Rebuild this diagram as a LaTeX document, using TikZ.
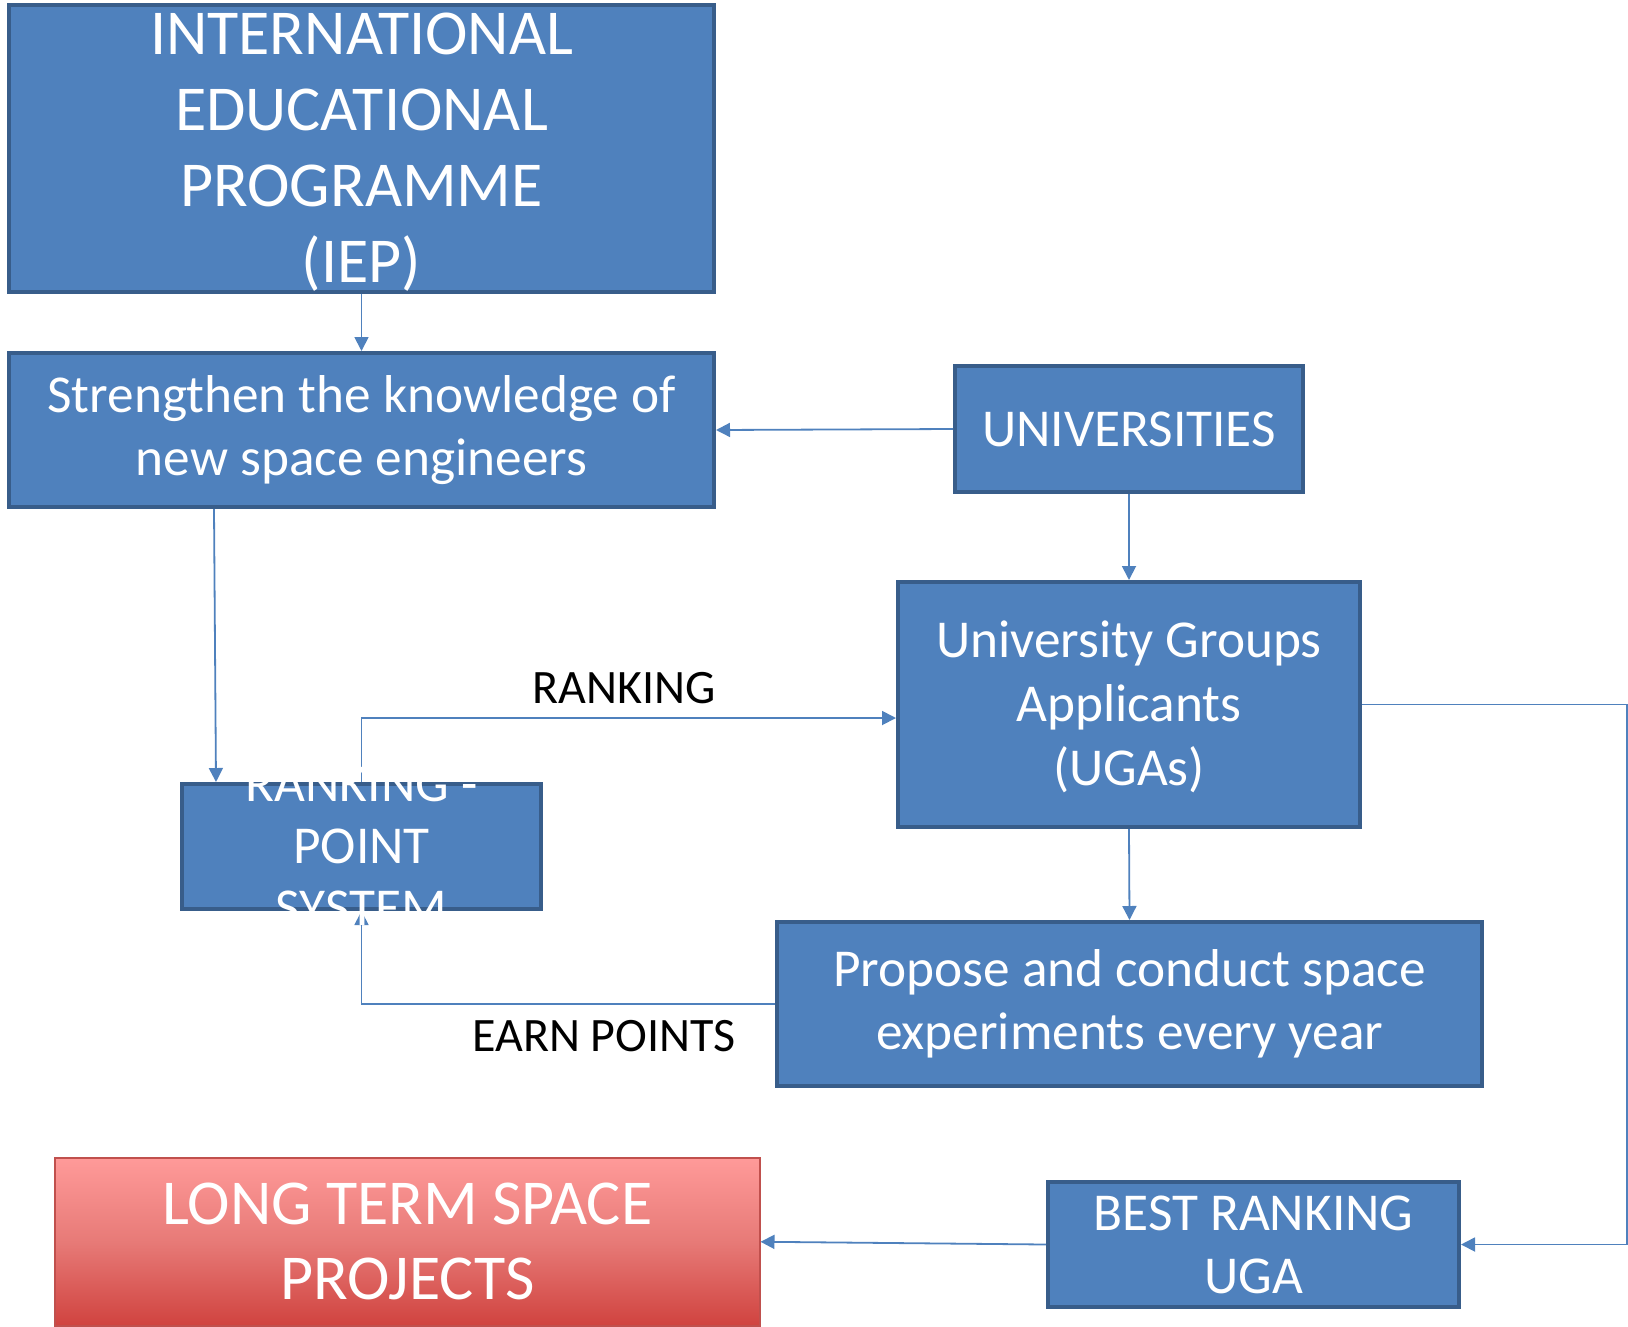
\documentclass[tikz,border=0pt]{standalone}
\usepackage{fontspec}
\setmainfont{Carlito}
\usetikzlibrary{arrows.meta,calc}
\definecolor{boxfill}{HTML}{4F81BD}
\definecolor{boxline}{HTML}{385D8A}
\definecolor{redtop}{HTML}{FF9A99}
\definecolor{redmid}{HTML}{E77A77}
\definecolor{redbot}{HTML}{D0433F}
\definecolor{redline}{HTML}{C0504D}
\tikzset{
  bluebox/.style={draw=boxline, fill=boxfill, line width=4pt, inner sep=0pt, anchor=north west},
  boxtext/.style={text=white, align=center, inner sep=0pt},
  conn/.style={draw=boxfill, line width=1.8pt, -{Triangle[length=14pt,width=14pt]}},
  lbl/.style={text=black, inner sep=0pt, font=\fontsize{48}{58}\selectfont}
}
\begin{document}
\begin{tikzpicture}[x=1pt,y=-1pt]
\useasboundingbox (0,0) rectangle (1628,1326);
\coordinate (rt) at (1627,0);
% boxes
\node[bluebox, minimum width=705pt, minimum height=287pt] (iep) at (7,3) {};
\node[bluebox, minimum width=705pt, minimum height=154pt] (str) at (7,351) {};
\node[bluebox, minimum width=348pt, minimum height=126pt] (uni) at (953,364) {};
\node[bluebox, minimum width=462pt, minimum height=245pt] (uga) at (896,580) {};
\node[bluebox, minimum width=359pt, minimum height=125pt] (rps) at (180,782) {};
\node[bluebox, minimum width=705pt, minimum height=164pt] (pro) at (775,920) {};
\node[bluebox, minimum width=411pt, minimum height=125pt] (best) at (1046,1180) {};
\node[draw=redline, line width=1.5pt, top color=redtop, bottom color=redbot, middle color=redmid, inner sep=0pt, anchor=north west, minimum width=705pt, minimum height=168pt] (ltp) at (54,1157) {};
% connectors
\draw[conn] (iep.south) -- (str.north);
\draw[conn] (uni.west) -- (str.east);
\draw[conn] (uni.south) -- (uga.north);
\draw[conn] ([xshift=207pt]str.south west) -- ([xshift=36pt]rps.north west);
\draw[conn] (rps.north) |- ([yshift=-13.5pt]uga.west);
\draw[conn] (uga.south) -- (pro.north);
\draw[conn] (pro.west) -| (rps.south);
\draw[conn] (uga.east) -- (uga.east -| rt) |- (best.east);
\draw[conn] (best.west) -- (ltp.east);
% texts
\node[boxtext, font=\fontsize{64}{76}\selectfont] (iept) at ([yshift=-4pt]iep.center) {INTERNATIONAL\\EDUCATIONAL\\PROGRAMME\\(IEP)};
\node[boxtext, font=\fontsize{53.3}{63}\selectfont] (strt) at (str.center) {Strengthen the knowledge of\\new space engineers};
\node[boxtext, font=\fontsize{53.3}{63}\selectfont] (unit) at (uni.center) {UNIVERSITIES};
\node[boxtext, font=\fontsize{53.3}{64}\selectfont] (ugat) at ([yshift=-2pt]uga.center) {University Groups\\Applicants\\(UGAs)};
\node[boxtext, font=\fontsize{53.3}{62}\selectfont] (rpst) at (rps.center) {RANKING -\\POINT\\SYSTEM};
\node[boxtext, font=\fontsize{53.3}{63}\selectfont] (prot) at (pro.center) {Propose and conduct space\\experiments every year};
\node[boxtext, font=\fontsize{53.3}{63}\selectfont] (bestt) at (best.center) {BEST RANKING\\UGA};
\node[boxtext, font=\fontsize{64}{75}\selectfont] (ltpt) at (ltp.center) {LONG TERM SPACE\\PROJECTS};
% labels
\node[lbl] (rk) at (624,688) {RANKING};
\node[lbl] (ep) at (604,1036) {EARN POINTS};
\end{tikzpicture}
\end{document}
